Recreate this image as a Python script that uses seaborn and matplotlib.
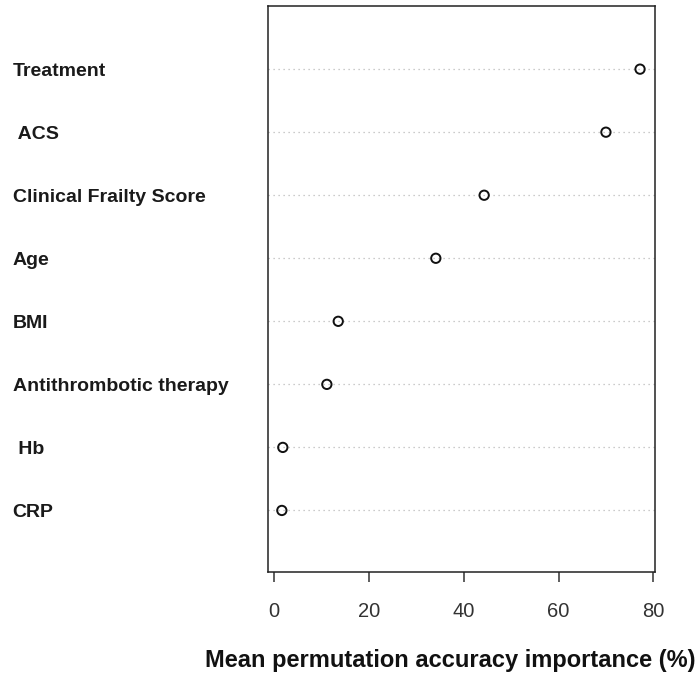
import matplotlib
matplotlib.use('Agg')
import matplotlib.pyplot as plt
import numpy as np
import pandas as pd
import seaborn as sns

# variable importance values
variables = ['Treatment', ' ACS', 'Clinical Frailty Score', 'Age', 'BMI',
             'Antithrombotic therapy', ' Hb', 'CRP']
importance = [77.2, 70.0, 44.3, 34.1, 13.5, 11.1, 1.8, 1.6]
x_ticks = [0, 20, 40, 60, 80]

df = pd.DataFrame({'Variable': variables, 'Importance': importance})
df['pos'] = np.arange(len(df))

sns.set_theme(style='white')
plt.rcParams['font.family'] = ['Liberation Sans', 'DejaVu Sans']

fig = plt.figure(figsize=(7, 6.78), dpi=100)
ax = fig.add_axes([0.383, 0.156, 0.553, 0.835])

# dotted guide lines across the panel
for p in df['pos']:
    ax.axhline(p, color='#bbbbbb', linestyle=(0, (1, 3)), linewidth=0.9, zorder=1)

sns.scatterplot(data=df, x='Importance', y='pos', ax=ax, s=45,
                facecolor='none', edgecolor='#111111', linewidth=1.4, zorder=3)

ax.set_xlim(-1.3, 80.4)
ax.set_ylim(len(df) - 0.02, -1)
ax.set_yticks(df['pos'])
ax.set_yticklabels(df['Variable'], fontsize=14, fontweight='bold', ha='left',
                   color='#1a1a1a')
ax.tick_params(axis='y', length=0, pad=184)

ax.set_xticks(x_ticks)
ax.set_xticklabels([str(t) for t in x_ticks], fontsize=14.5, color='#333333')
ax.tick_params(axis='x', direction='out', length=7.5, width=1.1, color='#333333',
               bottom=True, pad=14)

for s in ax.spines.values():
    s.set_color('#222222')
    s.set_linewidth(1.1)

ax.set_xlabel('Mean permutation accuracy importance (%)', fontsize=17,
              fontweight='bold', color='#111111')
ax.xaxis.set_label_coords(0.47, -0.135)
ax.set_ylabel('')

fig.savefig('out.png', dpi=100)
